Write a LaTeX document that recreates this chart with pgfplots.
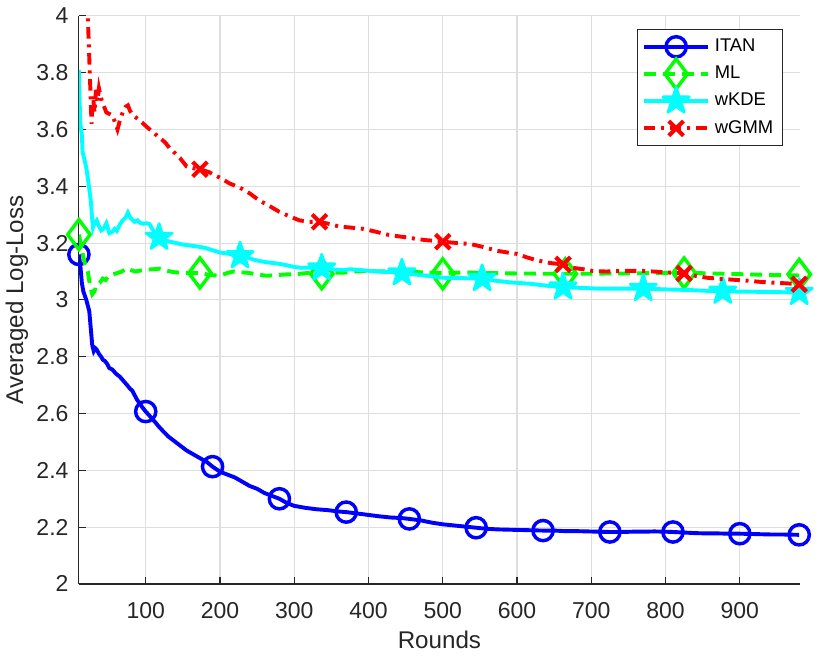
\documentclass[border=0pt]{standalone}
\usepackage{fontspec}
\setmainfont{Liberation Sans}
\usepackage{pgfplots}
\pgfplotsset{compat=1.18}
\usetikzlibrary{plotmarks}
\definecolor{axgray}{gray}{0.15}
\definecolor{mblue}{rgb}{0,0,1}
\definecolor{mgreen}{rgb}{0,1,0}
\definecolor{mcyan}{rgb}{0,1,1}
\definecolor{mred}{rgb}{1,0,0}

\pgfdeclareplotmark{pentagram}{%
  \pgfpathmoveto{\pgfpointpolar{90}{\pgfplotmarksize}}%
  \pgfpathlineto{\pgfpointpolar{126}{0.382\pgfplotmarksize}}%
  \pgfpathlineto{\pgfpointpolar{162}{\pgfplotmarksize}}%
  \pgfpathlineto{\pgfpointpolar{198}{0.382\pgfplotmarksize}}%
  \pgfpathlineto{\pgfpointpolar{234}{\pgfplotmarksize}}%
  \pgfpathlineto{\pgfpointpolar{270}{0.382\pgfplotmarksize}}%
  \pgfpathlineto{\pgfpointpolar{306}{\pgfplotmarksize}}%
  \pgfpathlineto{\pgfpointpolar{342}{0.382\pgfplotmarksize}}%
  \pgfpathlineto{\pgfpointpolar{18}{\pgfplotmarksize}}%
  \pgfpathlineto{\pgfpointpolar{54}{0.382\pgfplotmarksize}}%
  \pgfpathclose
  \pgfusepathqfillstroke
}

\pgfplotsset{
  itanline/.style={mblue, line width=1.7pt, solid},
  itanmark/.style={mblue, mark=o, mark size=4.4pt, mark options={solid, line width=1.5pt}},
  mlline/.style={mgreen, line width=1.7pt, dash pattern=on 5.2pt off 3pt},
  mlmark/.style={mgreen, mark=diamond, mark size=6.5pt, mark options={solid, line width=1.5pt}},
  kdeline/.style={mcyan, line width=1.7pt, solid},
  kdemark/.style={mcyan, mark=pentagram, mark size=6pt, mark options={solid, line width=1.2pt, fill=mcyan, line join=round}},
  gmmline/.style={mred, line width=1.7pt, dash pattern=on 5pt off 2.5pt on 1.3pt off 2.5pt},
  gmmmark/.style={mred, mark=x, mark size=4.5pt, mark options={solid, line width=1.8pt}},
}

\begin{document}
\begin{tikzpicture}
\begin{axis}[
  scale only axis, width=313.5pt, height=247pt,
  xmin=10, xmax=981, ymin=2, ymax=4,
  xtick={100,200,300,400,500,600,700,800,900},
  ytick={2,2.2,2.4,2.6,2.8,3,3.2,3.4,3.6,3.8,4},
  axis x line*=bottom, axis y line*=left,
  axis line style={axgray, line width=0.5pt},
  tick align=inside, major tick length=3pt,
  tick style={axgray, line width=0.5pt},
  grid=major, major grid style={line width=0.5pt, black!13},
  tick label style={font=\fontsize{10}{12}\selectfont, text=axgray},
  /pgf/number format/assume math mode=true,
  xticklabel style={anchor=north, yshift=-4.4pt},
  yticklabel style={anchor=east, xshift=-1pt},
  label style={font=\fontsize{10.5}{12}\selectfont, text=axgray},
  xlabel={Rounds}, ylabel={Averaged Log-Loss},
  xlabel style={at={(axis description cs:0.5,-0.0985)}, anchor=center},
  ylabel style={at={(axis description cs:-0.0861,0.5)}, anchor=center},
  clip mode=individual,
  legend style={at={(1,1)}, anchor=north east, xshift=-7.4pt, yshift=-5.7pt,
    draw=axgray, line width=0.5pt, fill=white, font=\fontsize{8}{9.6}\selectfont,
    text=black, inner sep=2pt, row sep=0.8pt},
  legend cell align=left,
  legend image code/.code={%
    \draw[mark=none] (0pt,0pt) -- (28pt,0pt);
    \draw[overlay, mark repeat=2, mark phase=2] plot coordinates {(0pt,0pt) (14pt,0pt) (28pt,0pt)};
    \path (0pt,-3pt) (28pt,3pt);},
]
% ITAN
\addplot[itanline, forget plot] coordinates {
(10,3.16) (12,3.12) (14,3.06) (16,3.03) (18,3.015) (20,3.0) (22,2.98) (24,2.96) (26,2.90) (28,2.84) (30,2.82) (32,2.83) (34,2.825) (37,2.81) (40,2.80) (42,2.79) (45,2.785) (48,2.775) (51,2.76) (55,2.755) (60,2.74) (65,2.73) (70,2.715) (75,2.70) (78,2.69) (82,2.68) (85,2.665) (88,2.65) (92,2.635) (96,2.62) (100,2.607) (110,2.578) (119,2.55) (130,2.52) (140,2.50) (150,2.48) (155,2.47) (165,2.455) (175,2.44) (182,2.43) (190,2.413) (200,2.395) (210,2.385) (220,2.375) (230,2.36) (240,2.345) (250,2.335) (260,2.32) (270,2.31) (280,2.30) (290,2.285) (300,2.275) (315,2.268) (330,2.263) (345,2.26) (360,2.255) (370,2.253) (385,2.248) (400,2.243) (415,2.238) (430,2.234) (445,2.232) (455,2.229) (470,2.224) (485,2.216) (500,2.21) (515,2.206) (530,2.202) (545,2.198) (560,2.194) (575,2.192) (590,2.191) (605,2.19) (620,2.189) (635,2.188) (650,2.188) (665,2.186) (680,2.186) (695,2.185) (710,2.184) (725,2.183) (740,2.183) (755,2.184) (770,2.184) (785,2.185) (800,2.184) (810,2.183) (825,2.181) (840,2.179) (855,2.178) (870,2.178) (885,2.177) (900,2.177) (915,2.176) (930,2.175) (945,2.174) (960,2.174) (980,2.173)
};
\addplot[itanmark, only marks, forget plot] coordinates {
(10,3.16) (100,2.607) (190,2.413) (280,2.30) (370,2.253) (455,2.229) (545,2.198) (635,2.188) (725,2.183) (810,2.183) (900,2.177) (980,2.173)
};
% ML
\addplot[mlline, forget plot] coordinates {
(10,3.23) (13,3.19) (16,3.15) (19,3.12) (22,3.10) (25,3.05) (28,3.02) (31,3.03) (34,3.055) (38,3.06) (42,3.075) (46,3.07) (50,3.085) (56,3.09) (62,3.095) (68,3.10) (74,3.112) (80,3.105) (86,3.10) (92,3.103) (100,3.106) (110,3.108) (119,3.11) (128,3.103) (137,3.098) (146,3.096) (155,3.094) (165,3.095) (173,3.095) (182,3.09) (190,3.087) (200,3.085) (210,3.095) (218,3.10) (227,3.097) (236,3.096) (245,3.092) (255,3.088) (263,3.085) (275,3.087) (290,3.09) (300,3.09) (315,3.094) (325,3.095) (337,3.095) (350,3.096) (366,3.096) (380,3.10) (393,3.102) (410,3.101) (430,3.10) (446,3.10) (465,3.098) (480,3.096) (500,3.095) (520,3.096) (540,3.096) (560,3.095) (580,3.094) (600,3.093) (620,3.093) (640,3.092) (665,3.092) (680,3.092) (700,3.092) (720,3.093) (748,3.093) (770,3.094) (800,3.095) (825,3.096) (850,3.094) (880,3.092) (910,3.09) (940,3.088) (960,3.087) (980,3.086)
};
\addplot[mlmark, only marks, forget plot] coordinates {
(10,3.23) (173,3.095) (337,3.092) (500,3.092) (665,3.092) (825,3.095) (980,3.09)
};
% wKDE
\addplot[kdeline, forget plot] coordinates {
(10,3.81) (11,3.70) (12,3.62) (13,3.60) (14,3.58) (15,3.52) (17,3.50) (20,3.465) (23,3.41) (26,3.35) (28,3.28) (29,3.255) (31,3.27) (34,3.28) (37,3.26) (40,3.245) (43,3.25) (47,3.27) (51,3.235) (55,3.24) (58,3.25) (61,3.243) (65,3.265) (69,3.28) (73,3.29) (76,3.307) (79,3.29) (81,3.285) (85,3.275) (89,3.28) (92,3.272) (97,3.268) (101,3.27) (105,3.267) (110,3.245) (118,3.22) (125,3.21) (133,3.205) (141,3.20) (150,3.195) (158,3.192) (164,3.19) (172,3.187) (180,3.183) (190,3.175) (200,3.167) (210,3.163) (218,3.16) (227,3.155) (236,3.15) (245,3.142) (253,3.137) (262,3.133) (271,3.13) (280,3.127) (290,3.122) (300,3.116) (310,3.113) (320,3.114) (337,3.112) (350,3.108) (365,3.105) (375,3.108) (390,3.105) (410,3.10) (430,3.098) (445,3.095) (460,3.09) (480,3.085) (500,3.078) (520,3.077) (538,3.076) (553,3.075) (570,3.068) (590,3.062) (617,3.057) (640,3.05) (662,3.045) (680,3.043) (707,3.04) (740,3.04) (770,3.04) (800,3.037) (830,3.035) (855,3.032) (877,3.03) (910,3.029) (940,3.028) (960,3.027) (980,3.026)
};
\addplot[kdemark, only marks, forget plot] coordinates {
(118,3.22) (227,3.155) (337,3.112) (445,3.095) (553,3.075) (662,3.045) (770,3.04) (877,3.03) (980,3.026)
};
% wGMM
\addplot[gmmline, forget plot] coordinates {
(10,4.6) (20,4.1) (22,4.0) (24,3.85) (26,3.70) (27,3.62) (29,3.72) (31,3.66) (33,3.74) (35,3.70) (37,3.745) (39,3.72) (41,3.70) (44,3.68) (47,3.66) (51,3.655) (55,3.65) (58,3.63) (62,3.60) (65,3.63) (69,3.66) (73,3.68) (76,3.685) (79,3.665) (83,3.65) (88,3.64) (95,3.625) (101,3.61) (110,3.59) (119,3.57) (126,3.555) (132,3.535) (140,3.515) (146,3.50) (155,3.47) (165,3.463) (173,3.46) (185,3.45) (200,3.43) (213,3.41) (227,3.395) (240,3.375) (253,3.35) (267,3.33) (280,3.31) (293,3.295) (307,3.28) (320,3.275) (334,3.275) (348,3.267) (361,3.258) (375,3.255) (393,3.25) (410,3.24) (425,3.23) (440,3.224) (452,3.22) (466,3.214) (479,3.21) (490,3.208) (500,3.205) (520,3.20) (537,3.197) (555,3.186) (573,3.173) (587,3.167) (600,3.162) (613,3.15) (626,3.14) (644,3.13) (662,3.125) (675,3.113) (689,3.108) (702,3.102) (720,3.10) (740,3.102) (770,3.102) (790,3.099) (806,3.096) (825,3.093) (840,3.085) (856,3.078) (880,3.073) (909,3.068) (930,3.063) (950,3.06) (965,3.058) (980,3.055)
};
\addplot[gmmmark, only marks, forget plot] coordinates {
(173,3.46) (334,3.275) (500,3.205) (662,3.125) (825,3.093) (980,3.055)
};
\addlegendimage{itanline, mark=o, mark size=4.4pt, mark options={solid, line width=1.5pt}}
\addlegendentry{ITAN}
\addlegendimage{mlline, mark=diamond, mark size=6.5pt, mark options={solid, line width=1.5pt}}
\addlegendentry{ML}
\addlegendimage{kdeline, mark=pentagram, mark size=6pt, mark options={solid, line width=1.2pt, fill=mcyan, line join=round}}
\addlegendentry{wKDE}
\addlegendimage{gmmline, mark=x, mark size=4.5pt, mark options={solid, line width=1.8pt}}
\addlegendentry{wGMM}
\end{axis}
\pgfresetboundingbox
\path[use as bounding box] ([shift={(-34.3pt,-31.4pt)}]current axis.south west) rectangle ([shift={(13.5pt,6.9pt)}]current axis.north east);
\end{tikzpicture}
\end{document}
